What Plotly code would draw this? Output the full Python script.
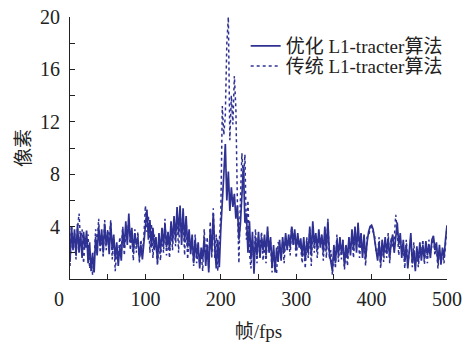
import plotly.graph_objects as go

frames = list(range(0, 501, 2))

opt_vals = [
    1.3, 4.0, 2.2, 3.8, 1.8,  4.2, 2.0, 3.5, 1.6, 3.6,
    2.4, 3.7, 1.2, 2.8, 0.6,  2.0, 0.5, 3.2, 1.8, 4.0,
    2.5, 3.8, 2.0, 4.2, 2.6,  3.6, 1.9, 4.3, 2.2, 3.4,
    1.5, 2.8, 1.0, 2.5, 1.4,  3.8, 2.4, 4.4, 2.6, 5.0,
    2.8, 3.9, 2.0, 3.5, 2.6,  3.2, 1.6, 2.6, 1.5, 2.8,
    4.0, 5.3, 3.0, 4.5, 2.4,  3.9, 2.2, 3.2, 1.3, 3.5,
    2.0, 3.9, 2.5, 4.2, 2.4,  3.6, 2.2, 4.4, 2.8, 4.8,
    3.0, 5.5, 3.4, 5.6, 2.6,  5.4, 2.8, 4.8, 2.4, 3.8,
    1.9, 3.4, 1.2, 3.0, 1.6,  2.8, 0.8, 2.4, 1.5, 3.2,
    1.0, 2.6, 0.5, 3.8, 2.0,  5.0, 2.5, 0.8, 3.0, 0.9,
    3.8, 6.5, 8.0, 10.3, 6.0, 8.2, 5.2, 7.0, 5.5, 6.5,
    4.6, 5.6, 3.0, 4.2, 6.0,  8.6, 4.3, 5.0, 2.0, 4.4,
    1.5, 3.6, 0.4, 3.2, 1.8,  3.6, 1.6, 3.2, 2.2, 3.4,
    1.8, 4.0, 2.0, 3.2, 0.9,  2.6, 0.5, 2.4, 1.3, 3.0,
    1.4, 3.2, 2.0, 3.5, 2.2,  3.4, 2.4, 4.0, 2.6, 3.8,
    2.2, 3.5, 2.4, 3.1, 1.7,  3.2, 1.4, 2.9, 2.0, 4.0,
    1.8, 4.4, 2.6, 3.5, 2.2,  3.8, 2.4, 3.4, 2.0, 4.0,
    2.2, 4.4, 2.0, 1.2, 0.6,  2.6, 1.2, 3.0, 1.8, 3.2,
    2.0, 2.8, 1.0, 2.6, 1.6,  3.2, 1.8, 3.8, 2.2, 4.0,
    2.0, 4.3, 2.4, 3.5, 1.6,  3.4, 1.5, 2.8, 3.6, 4.0,
    4.1, 3.8, 3.0, 2.4, 1.4,  2.8, 1.2, 3.0, 1.8, 3.2,
    2.0, 3.1, 1.6, 2.8, 3.4,  2.0, 3.3, 4.3, 2.6, 3.5,
    1.6, 3.0, 1.3, 2.6, 0.8,  2.4, 3.5, 1.2, 2.2, 0.6,
    2.5, 1.3, 2.8, 1.4, 2.6,  1.5, 2.9, 1.8, 2.6, 1.6,
    3.0, 3.3, 2.2, 2.8, 1.2,  2.6, 1.1, 2.4, 1.6, 3.0,
    4.1,
]

trad_vals = [
    1.0, 4.1, 2.6, 3.5, 1.5,  3.9, 5.0, 2.8, 3.8, 1.2,
    3.0, 2.4, 3.4, 0.8, 1.6,  0.3, 1.4, 3.8, 2.4, 4.6,
    2.0, 3.4, 1.6, 4.5, 2.2,  3.8, 2.8, 4.5, 1.5, 3.1,
    0.6, 2.2, 1.5, 3.2, 2.2,  4.0, 1.8, 3.6, 3.0, 4.6,
    2.2, 3.2, 1.4, 3.8, 2.0,  3.6, 1.2, 3.0, 2.0, 3.3,
    5.6, 3.6, 4.8, 2.0, 4.2,  1.6, 3.4, 2.8, 1.0, 3.0,
    1.4, 3.5, 2.0, 4.6, 1.8,  3.2, 1.6, 4.0, 2.2, 4.5,
    2.5, 5.0, 2.0, 5.3, 3.2,  4.7, 1.8, 4.6, 1.5, 3.3,
    2.2, 3.0, 1.0, 3.4, 1.2,  2.2, 1.2, 2.0, 0.6, 3.8,
    1.4, 3.2, 0.8, 4.4, 1.6,  5.4, 1.6, 3.4, 0.6, 2.6,
    5.0, 13.2, 11.0, 12.5, 18.0, 20.0, 10.6, 14.0, 11.8, 15.5,
    13.0, 5.8, 1.2, 6.0, 9.6, 7.5, 9.5, 3.0, 6.0, 2.0,
    0.8, 3.0, 1.2, 3.8, 1.2,  3.2, 2.2, 3.6, 1.4, 2.8,
    1.2, 3.6, 2.6, 2.8, 0.5,  2.2, 1.0, 0.4, 2.8, 2.4,
    1.8, 2.8, 1.2, 3.2, 2.8,  2.9, 1.8, 4.0, 3.2, 3.3,
    1.6, 3.0, 2.8, 2.4, 1.2,  2.8, 0.8, 3.2, 1.6, 3.8,
    1.0, 4.0, 2.0, 3.2, 1.6,  3.4, 2.9, 3.0, 1.4, 3.6,
    1.6, 4.6, 1.5, 2.2, 0.3,  2.2, 0.8, 3.4, 1.3, 2.8,
    1.5, 3.1, 0.7, 2.2, 1.0,  2.8, 2.4, 3.4, 1.6, 3.6,
    2.6, 3.9, 1.6, 3.1, 2.0,  3.0, 1.0, 3.2, 3.3, 3.8,
    4.0, 3.6, 3.3, 2.0, 1.8,  3.2, 0.8, 2.6, 1.3, 2.8,
    1.6, 3.5, 1.2, 3.2, 2.4,  3.0, 4.9, 3.8, 1.8, 3.1,
    2.2, 2.6, 0.8, 3.0, 1.2,  2.0, 3.1, 0.9, 2.8, 1.0,
    2.1, 0.9, 2.4, 1.8, 3.0,  1.1, 2.6, 1.2, 3.0, 2.0,
    2.6, 3.1, 1.8, 2.4, 0.8,  2.2, 1.5, 2.0, 1.2, 2.7,
    4.0,
]

series_names = ["优化 L1-tracter算法", "传统 L1-tracter算法"]
x_tick_vals = list(range(0, 501, 50))
x_tick_text = ["" if (v % 100 or v == 0) else str(v) for v in x_tick_vals]
y_tick_vals = list(range(0, 21, 2))
y_tick_text = [str(v) if (v % 4 == 0 and v > 0) else "" for v in y_tick_vals]

color = "#2e3192"
font_family = "Liberation Serif, 'Noto Sans CJK SC', serif"

fig = go.Figure()
fig.add_trace(go.Scatter(x=frames, y=opt_vals, mode="lines", name=series_names[0],
                         legend="legend",
                         line=dict(color=color, width=1.7)))
fig.add_trace(go.Scatter(x=frames, y=trad_vals, mode="lines", name=series_names[1],
                         legend="legend2",
                         line=dict(color=color, width=1.5, dash="dot")))

legend_common = dict(xanchor="left", yanchor="top", bgcolor="rgba(0,0,0,0)",
                     font=dict(size=19), itemwidth=30)

fig.update_layout(
    width=470, height=342,
    margin=dict(l=70, r=23, t=17, b=63),
    paper_bgcolor="white", plot_bgcolor="white",
    font=dict(family=font_family, size=20, color="#222"),
    showlegend=True,
    legend=dict(x=0.466, y=0.962, **legend_common),
    legend2=dict(x=0.466, y=0.885, **legend_common),
    xaxis=dict(range=[0, 500], showline=True, linecolor="#222", linewidth=1,
               showgrid=False, zeroline=False, ticks="inside", ticklen=5,
               tickcolor="#222", tickvals=x_tick_vals, ticktext=x_tick_text,
               ticklabelstandoff=2, automargin=False, ticklabeloverflow="allow",
               title=dict(text="帧/fps", standoff=20, font=dict(size=19))),
    yaxis=dict(range=[0, 20], showline=True, linecolor="#222", linewidth=1,
               showgrid=False, zeroline=False, ticks="inside", ticklen=5,
               tickcolor="#222", tickvals=y_tick_vals, ticktext=y_tick_text,
               ticklabelstandoff=5, automargin=False, ticklabeloverflow="allow",
               title=dict(text="像素", standoff=4, font=dict(size=19))),
    annotations=[dict(text="0", x=0, y=0, xref="x", yref="paper",
                      xanchor="center", yanchor="top", xshift=-11, yshift=-7,
                      showarrow=False, font=dict(size=20))],
)

fig.write_html("out.html", config={"displayModeBar": False},
               post_script="document.body.style.margin='0';")
